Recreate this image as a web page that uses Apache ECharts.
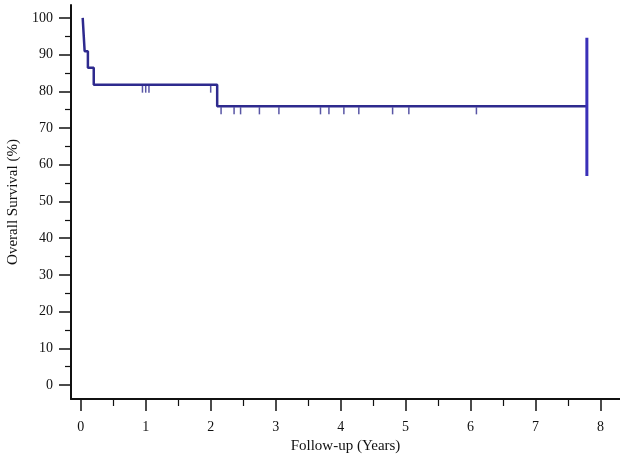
<!DOCTYPE html>
<html>
<head>
<meta charset="utf-8">
<script src="https://cdn.jsdelivr.net/npm/echarts@6/dist/echarts.min.js"></script>
<style>
  html, body { margin: 0; padding: 0; background: #fff; }
  #chart { width: 620px; height: 456px; }
</style>
</head>
<body>
<div id="chart"></div>
<script>
// Kaplan-Meier steps: from stepTimes[i] onward survival is survival[i]
const stepTimes = [0.03, 0.045, 0.06, 0.11, 0.20, 2.10, 7.80];
const survival = [100, 95.45, 90.9, 86.4, 81.8, 75.9, 75.9];

// censored observations (years)
const censorTimes = [0.95, 1.0, 1.05, 2.0,
  2.16, 2.36, 2.46, 2.75, 3.05, 3.69, 3.82, 4.05, 4.28, 4.80, 5.05, 6.09];

// bar drawn at the end of follow-up
const endBarTime = 7.79;
const endBarRange = [56.9, 94.6];

const yTicks = [0, 10, 20, 30, 40, 50, 60, 70, 80, 90, 100];
const yMinorTicks = [5, 15, 25, 35, 45, 55, 65, 75, 85, 95];
const xTicks = [0, 1, 2, 3, 4, 5, 6, 7, 8];
const xMinorTicks = [0.5, 1.5, 2.5, 3.5, 4.5, 5.5, 6.5, 7.5];

function survAt(t) {
  let s = survival[0];
  for (let i = 0; i < stepTimes.length; i++) {
    if (stepTimes[i] <= t) s = survival[i];
  }
  return s;
}

const font = 'Liberation Serif';
const black = '#111';
const curveColor = '#2e2a8e';

const myChart = echarts.init(document.getElementById('chart'), null, { renderer: 'canvas' });

const xBase = {
  type: 'value', min: -0.15, max: 8.3, gridIndex: 0,
  splitLine: { show: false }
};
const yBase = {
  type: 'value', min: -3.8, max: 103.5, gridIndex: 0,
  splitLine: { show: false }
};

myChart.setOption({
  backgroundColor: '#fff',
  animation: false,
  grid: { left: 71, right: 0, top: 5, bottom: 57, outerBoundsMode: 'none', containLabel: false },
  xAxis: [
    Object.assign({}, xBase, {
      name: 'Follow-up (Years)',
      nameLocation: 'middle',
      nameGap: 40,
      nameTextStyle: { fontFamily: font, fontSize: 15, color: black },
      axisLine: { show: true, onZero: false, lineStyle: { color: black, width: 2 } },
      axisTick: { show: true, length: 12, customValues: xTicks, lineStyle: { color: black, width: 1.5 } },
      axisLabel: { margin: 21, customValues: xTicks, fontFamily: font, fontSize: 14, color: black }
    }),
    Object.assign({}, xBase, {
      position: 'bottom',
      axisLine: { show: false, onZero: false },
      axisTick: { show: true, length: 7, customValues: xMinorTicks, lineStyle: { color: black, width: 1.2 } },
      axisLabel: { show: false }
    })
  ],
  yAxis: [
    Object.assign({}, yBase, {
      name: 'Overall Survival (%)',
      nameLocation: 'middle',
      nameGap: 50,
      nameTextStyle: { fontFamily: font, fontSize: 15, color: black },
      axisLine: { show: true, onZero: false, lineStyle: { color: black, width: 2 } },
      axisTick: { show: true, length: 12, customValues: yTicks, lineStyle: { color: black, width: 1.5 } },
      axisLabel: { margin: 18, customValues: yTicks, fontFamily: font, fontSize: 14, color: black }
    }),
    Object.assign({}, yBase, {
      position: 'left',
      axisLine: { show: false, onZero: false },
      axisTick: { show: true, length: 6, customValues: yMinorTicks, lineStyle: { color: black, width: 1.2 } },
      axisLabel: { show: false }
    })
  ],
  series: [
    {
      type: 'line',
      step: 'end',
      data: stepTimes.map((t, i) => [t, survival[i]]),
      showSymbol: false,
      lineStyle: { color: curveColor, width: 2.5 }
    },
    {
      type: 'scatter',
      data: censorTimes.map(t => [t, survAt(t)]),
      symbol: 'rect',
      symbolSize: [1.5, 7],
      symbolOffset: [0, 4.5],
      itemStyle: { color: curveColor }
    },
    {
      type: 'line',
      data: [[endBarTime, endBarRange[0]], [endBarTime, endBarRange[1]]],
      showSymbol: false,
      lineStyle: { color: '#3a30b8', width: 3 }
    }
  ]
});
</script>
</body>
</html>
